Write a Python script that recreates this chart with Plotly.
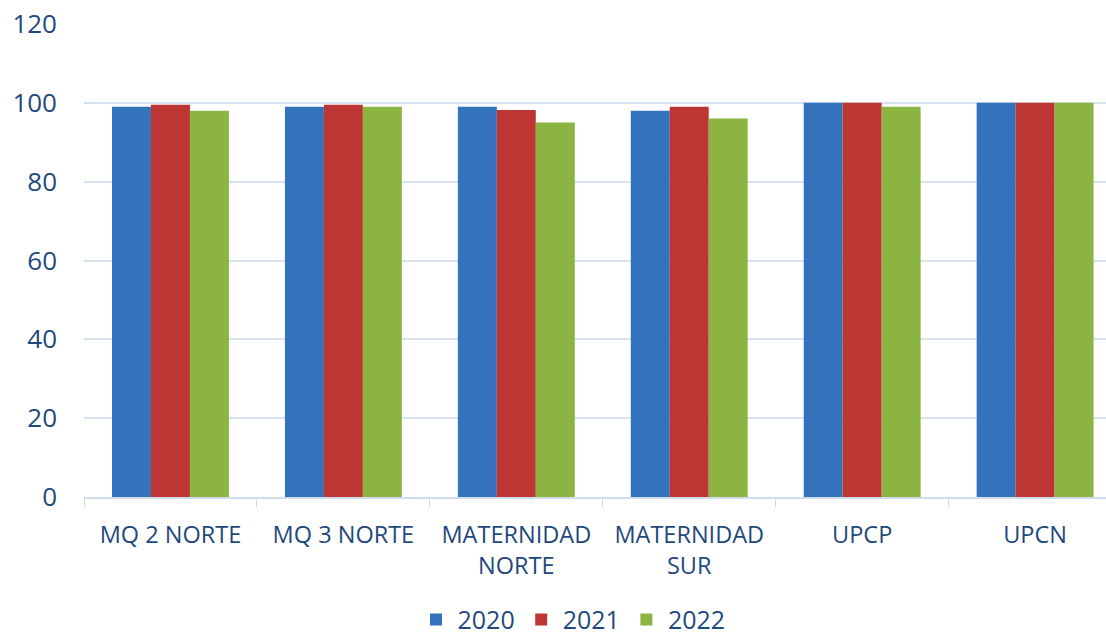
import plotly.graph_objects as go

categories = ["MQ 2 NORTE", "MQ 3 NORTE", "MATERNIDAD<br>NORTE", "MATERNIDAD<br>SUR", "UPCP", "UPCN"]
years = ["2020", "2021", "2022"]
v2020 = [99, 99, 99, 98, 100, 100]
v2021 = [99.5, 99.5, 98.2, 99, 100, 100]
v2022 = [98, 99, 95, 96, 99, 100]
y_ticks = [0, 20, 40, 60, 80, 100, 120]

colors = ["#3572BC", "#BD3634", "#8CB443"]
text_color = "#1F497D"
series = [v2020, v2021, v2022]

fig = go.Figure()
for name, vals, c in zip(years, series, colors):
    fig.add_trace(go.Bar(
        x=categories, y=vals, name=name,
        marker=dict(color=c, line=dict(width=0)),
    ))

fig.update_layout(
    width=1106, height=635,
    margin=dict(l=84, r=0, t=24, b=138, autoexpand=False),
    paper_bgcolor="white", plot_bgcolor="white",
    barmode="group", bargap=0.324, bargroupgap=0,
    font=dict(family="Open Sans", color=text_color, size=23),
    legend=dict(orientation="h", x=0.478, xanchor="center",
                yref="container", y=0.024, yanchor="middle",
                font=dict(size=25, color=text_color), itemwidth=33, traceorder="normal"),
    showlegend=True,
)
fig.update_xaxes(
    range=[-0.5, 5.41], automargin=False,
    showline=True, linecolor="#D0DCEA", linewidth=1.5,
    ticks="outside", tickson="boundaries", ticklen=8, tickcolor="#D0DCEA",
    tickfont=dict(size=23.5, color=text_color),
    ticklabelstandoff=16,
    showgrid=False,
)
fig.update_yaxes(
    range=[0, 120], tickvals=y_ticks, automargin=False,
    showgrid=True, gridcolor="#D6E2F0", gridwidth=1.5,
    zeroline=False, showline=False,
    tickfont=dict(size=26, color=text_color),
    ticklabelstandoff=26,
)

fig.write_html("out.html", config={"displayModeBar": False},
               post_script="document.body.style.margin='0';")
